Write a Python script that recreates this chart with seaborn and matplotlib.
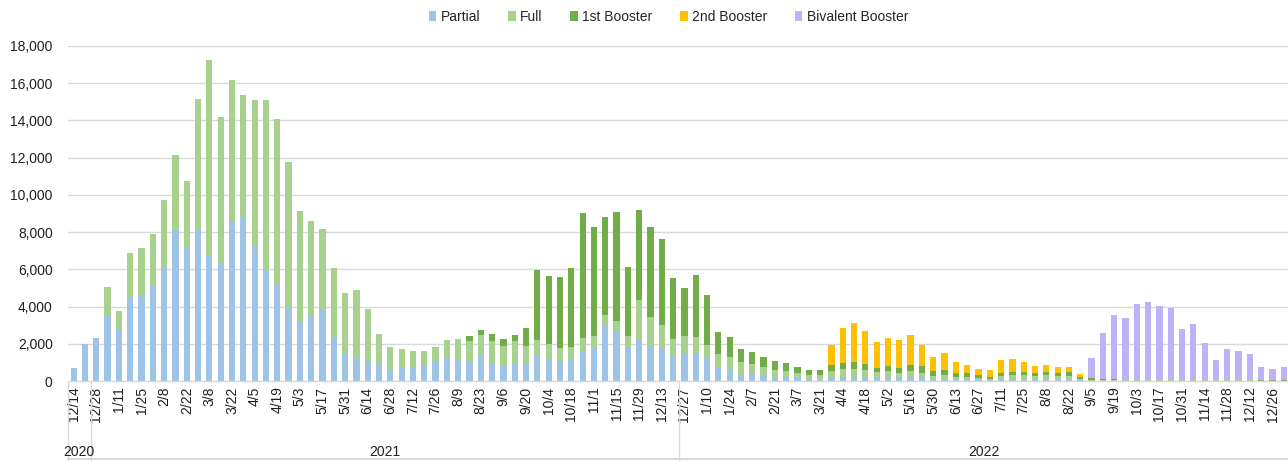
import numpy as np
import pandas as pd
import seaborn as sns
import matplotlib.pyplot as plt
from matplotlib.patches import Patch
import matplotlib.transforms as mtransforms

# weekly doses, first week starting 12/14/2020
first_week = "2020-12-14"
n_weeks = 108
years = ["2020", "2021", "2022"]
weeks_per_year = [2, 52, 54]

partial = [720, 2000, 2300, 3570, 2780, 4500, 4630, 5150, 6100, 8140,
           7140, 8100, 6710, 6350, 8590, 8790, 7300, 5990, 5250, 3960,
           3170, 3480, 3800, 2350, 1520, 1220, 1000, 930, 650, 720,
           740, 860, 1075, 1250, 1200, 1090, 1360, 985, 790, 985,
           950, 1380, 1150, 1060, 1160, 1630, 1790, 2970, 2650, 1840,
           2220, 1930, 1810, 1380, 1450, 1450, 1310, 730, 610, 340,
           410, 290, 215, 235, 180, 125, 125, 180, 215, 230,
           215, 180, 200, 200, 230, 200, 110, 125, 90, 70,
           55, 35, 110, 110, 110, 70, 100, 80, 100, 70] + [0] * 18

full = [0, 0, 0, 1490, 1000, 2370, 2490, 2760, 3650, 4020,
        3620, 7050, 10540, 7830, 7600, 6590, 7780, 9130, 8810, 7820,
        5970, 5130, 4390, 3730, 3200, 3680, 2870, 1620, 1200, 1020,
        880, 760, 770, 950, 1055, 1075, 1110, 1145, 1090, 1165,
        950, 820, 840, 715, 660, 680, 610, 575, 575, 575,
        2110, 1500, 1200, 880, 970, 910, 645, 735, 680, 680,
        500, 465, 375, 305, 250, 200, 200, 370, 415, 430,
        380, 290, 320, 230, 310, 250, 160, 200, 125, 125,
        90, 70, 160, 215, 215, 200, 200, 180, 190, 40,
        60, 50, 50, 40, 40, 40, 40, 40, 40, 40,
        30, 30, 30, 30, 30, 20, 20, 20]

booster1 = [0] * 35 + [
    270, 290, 375, 375, 320,
    950, 3760, 3670, 3800, 4240, 6730, 5850, 5260, 5870, 3700,
    4870, 4820, 4640, 3280, 2600, 3310, 2690, 1180, 1070, 680,
    645, 555, 485, 430, 305, 250, 270, 310, 325, 360,
    325, 250, 290, 270, 340, 360, 290, 290, 235, 215,
    180, 125, 160, 160, 160, 160, 180, 190, 220, 90,
    80, 40, 40, 30, 30, 30, 30, 30, 20, 20,
    20, 20, 20, 20, 20, 10, 10, 10]

booster2 = [0] * 67 + [
    1080, 1890, 2120,
    1765, 1385, 1475, 1510, 1585, 1135, 740, 880, 560, 450,
    340, 380, 685, 685, 560, 380, 370, 300, 235, 150] + [0] * 18

bivalent = [0] * 89 + [
    40,
    1110, 2480, 3430, 3300, 4070, 4180, 3950, 3840, 2760, 2980,
    1970, 1080, 1650, 1580, 1420, 720, 630, 720]

series = ["Partial", "Full", "1st Booster", "2nd Booster", "Bivalent Booster"]
colors = ["#9DC3E6", "#A9D18E", "#70AD47", "#FFC000", "#BDB2F7"]

week_dates = pd.date_range(first_week, periods=n_weeks, freq="7D")
week_labels = [f"{d.month}/{d.day}" for d in week_dates]
pos = np.arange(n_weeks)

sns.set_theme(style="white")
plt.rcParams["font.family"] = ["Liberation Sans", "DejaVu Sans"]

fig = plt.figure(figsize=(12.88, 4.61), dpi=100)
ax = fig.add_axes([68 / 1288, 80 / 461, 1221.5 / 1288, 335 / 461])

bottom = np.zeros(n_weeks)
for name, vals, c in zip(series, [partial, full, booster1, booster2, bivalent], colors):
    vals = np.array(vals, dtype=float)
    sns.barplot(x=pos, y=vals, bottom=bottom, color=c, width=0.55,
                saturation=1, errorbar=None, linewidth=0, ax=ax)
    bottom += vals

ax.set_xlim(-0.5, n_weeks - 0.5)
ax.set_ylim(0, 18000)
ax.set_yticks(np.arange(0, 18001, 2000))
ax.set_yticklabels([f"{v:,}" for v in range(0, 18001, 2000)], fontsize=10, color="#202020")
ax.set_xticks(pos[::2])
ax.set_xticklabels(week_labels[::2], rotation=90, fontsize=10, color="#202020")
ax.tick_params(axis="both", length=0)
ax.tick_params(axis="y", pad=11)
ax.tick_params(axis="x", pad=4)
ax.set_xlabel("")
ax.set_ylabel("")
ax.yaxis.grid(True, color="#D9D9D9", linewidth=1)
ax.set_axisbelow(True)
for s in ["top", "right", "left"]:
    ax.spines[s].set_visible(False)
ax.spines["bottom"].set_color("#D9D9D9")
ax.spines["bottom"].set_linewidth(1)

# year grouping below the week labels
trans = mtransforms.blended_transform_factory(ax.transData, ax.transAxes)
ybot = -80 / 335
edges = np.concatenate([[0], np.cumsum(weeks_per_year)]) - 0.5
for e in edges[:-1]:
    ax.plot([e, e], [0, ybot], color="#D9D9D9", lw=1, transform=trans, clip_on=False)
ax.plot([-0.5, n_weeks], [ybot + 0.006, ybot + 0.006], color="#D9D9D9", lw=1.5,
        transform=trans, clip_on=False)
for yr, a, b in zip(years, edges[:-1], edges[1:]):
    ax.text((a + b) / 2, -71 / 335, yr, transform=trans, ha="center", va="center",
            fontsize=10, color="#202020")

handles = [Patch(facecolor=c, edgecolor="none") for c in colors]
fig.legend(handles, series, loc="center", bbox_to_anchor=(0.519, 0.963), ncol=5,
           frameon=False, fontsize=10, handlelength=0.55, handleheight=0.75,
           handletextpad=0.3, columnspacing=2.0)

fig.savefig("out.png", dpi=100)
